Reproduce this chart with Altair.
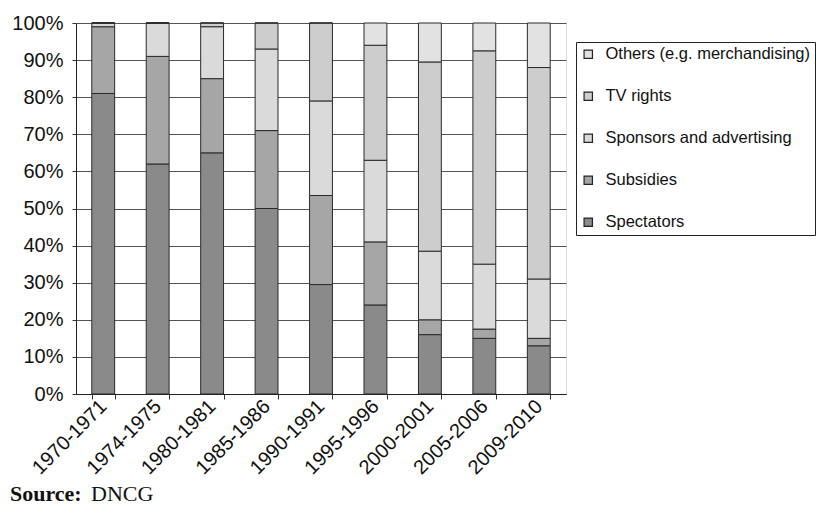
import altair as alt
import pandas as pd

seasons = ["1970-1971", "1974-1975", "1980-1981", "1985-1986", "1990-1991",
           "1995-1996", "2000-2001", "2005-2006", "2009-2010"]
spectators = [81, 62, 65, 50, 29.5, 24, 16, 15, 13]
subsidies = [18, 29, 20, 21, 24, 17, 4, 2.5, 2]
sponsors = [1, 9, 14, 22, 25.5, 22, 18.5, 17.5, 16]
tv_rights = [0, 0, 1, 7, 21, 31, 51, 57.5, 57]
others = [0, 0, 0, 0, 0, 6, 10.5, 7.5, 12]

series_names = ["Spectators", "Subsidies", "Sponsors and advertising", "TV rights",
                "Others (e.g. merchandising)"]
series_values = [spectators, subsidies, sponsors, tv_rights, others]
legend_order = ["Others (e.g. merchandising)", "TV rights", "Sponsors and advertising",
                "Subsidies", "Spectators"]
fills = ["#e2e2e2", "#cdcdcd", "#dadada", "#a6a6a6", "#8a8a8a"]
y_ticks = [0, 0.1, 0.2, 0.3, 0.4, 0.5, 0.6, 0.7, 0.8, 0.9, 1.0]

rows = []
for rank, (name, vals) in enumerate(zip(series_names, series_values)):
    for s, v in zip(seasons, vals):
        rows.append({"season": s, "source": name, "value": v, "rank": rank})
df = pd.DataFrame(rows)

bars = alt.Chart(df).mark_bar(stroke="#2a2a2a", strokeWidth=1).encode(
    x=alt.X("season:N", sort=seasons, title=None,
            scale=alt.Scale(paddingInner=0.58, paddingOuter=0.29),
            axis=alt.Axis(labelAngle=-45, labelAlign="right", labelBaseline="middle",
                          labelFontSize=20, labelFont="Liberation Sans", labelColor="#111",
                          tickBand="extent", tickSize=5, tickColor="#333", domainColor="#222",
                          labelPadding=4, grid=False)),
    y=alt.Y("value:Q", stack="normalize", title=None,
            scale=alt.Scale(domain=[0, 1], nice=False),
            axis=alt.Axis(values=y_ticks, format=".0%", labelFontSize=20,
                          labelFont="Liberation Sans", labelColor="#111",
                          tickSize=4, tickColor="#333", domainColor="#222",
                          labelPadding=9, gridColor="#555", gridWidth=1.2, gridOpacity=1)),
    color=alt.Color("source:N", sort=legend_order,
                    scale=alt.Scale(domain=legend_order, range=fills),
                    legend=alt.Legend(title=None, orient="none", legendX=500, legendY=19,
                                      symbolType="square", symbolSize=70,
                                      symbolStrokeColor="#222", symbolStrokeWidth=1.2,
                                      labelFontSize=16.5, labelFont="Liberation Sans",
                                      labelColor="#111", labelLimit=400,
                                      rowPadding=25, padding=4, labelOffset=9,
                                      strokeColor="#222", fillColor="white")),
    order=alt.Order("rank:Q", sort="ascending"),
)

src_df = pd.DataFrame({"label": ["Source:"]})
src_bold = alt.Chart(src_df).mark_text(
    font="Liberation Serif", fontSize=22, fontWeight="bold", align="left",
    baseline="alphabetic", color="#111"
).encode(text="label:N", x=alt.value(-66), y=alt.value(478))
src_df2 = pd.DataFrame({"label": ["DNCG"]})
src_reg = alt.Chart(src_df2).mark_text(
    font="Liberation Serif", fontSize=22, align="left",
    baseline="alphabetic", color="#111"
).encode(text="label:N", x=alt.value(15), y=alt.value(478))

chart = alt.layer(bars, src_bold, src_reg).properties(
    width=490, height=371,
    autosize=alt.AutoSizeParams(type="none"),
    padding={"left": 68, "top": 15, "right": 250, "bottom": 111},
).configure_view(stroke="#555", strokeWidth=1.2).configure(background="white")

chart.save("out.html", embed_options={"renderer": "svg", "actions": False})
